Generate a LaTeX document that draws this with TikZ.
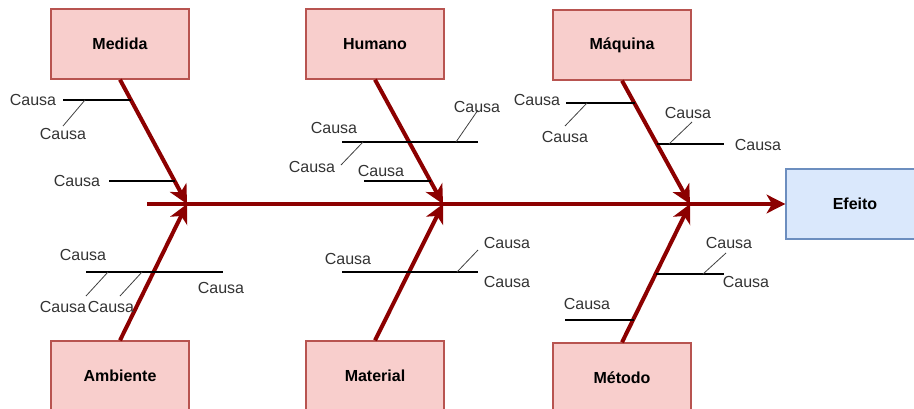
\documentclass[tikz,border=0pt]{standalone}
\usepackage{fontspec}
\setmainfont{Liberation Sans}
\usetikzlibrary{arrows.meta}

\definecolor{espinhacor}{HTML}{8C0000}
\definecolor{rosa}{HTML}{F8CECC}
\definecolor{rosaborda}{HTML}{B85450}
\definecolor{azul}{HTML}{DAE8FC}
\definecolor{azulborda}{HTML}{6C8EBF}
\definecolor{textocor}{HTML}{333333}

\tikzset{
    categoria/.style={
        rectangle,
        draw=rosaborda,
        fill=rosa,
        line width=1pt,
        minimum width=103.5pt,
        minimum height=52.5pt,
        align=center,
        font=\fontsize{12}{14}\selectfont\bfseries
    },
    efeito/.style={
        categoria,
        draw=azulborda,
        fill=azul
    },
    espinha/.style={
        -{Stealth[length=14pt,width=14pt,inset=4pt]},
        line width=3pt,
        draw=espinhacor
    },
    causa/.style={
        line width=1pt,
        draw=black
    },
    subcausa/.style={
        line width=0.6pt,
        draw=black!75
    },
    rotulo/.style={
        font=\fontsize{12}{14}\selectfont,
        text=textocor,
        inner sep=0pt
    }
}

\begin{document}
\begin{tikzpicture}[x=0.75pt, y=-0.75pt]

    \useasboundingbox (0,0) rectangle (914,408);

    % Categories
    \node[categoria] (medida) at (120,44) {Medida};
    \node[categoria] (humano) at (375,44) {Humano};
    \node[categoria] (maquina) at (622,45) {Máquina};
    \node[categoria] (ambiente) at (120,376) {Ambiente};
    \node[categoria] (material) at (375,376) {Material};
    \node[categoria] (metodo) at (622,378) {Método};

    % Effect
    \node[efeito] (efeito) at (855,204) {Efeito};

    % Spine and bones
    \coordinate (inicio) at (147,204);
    \coordinate (j1) at (187,204);
    \coordinate (j2) at (443,204);
    \coordinate (j3) at (690,204);
    \draw[espinha] (inicio) -- (efeito.west);
    \draw[espinha] (medida.south) -- (j1);
    \draw[espinha] (ambiente.north) -- (j1);
    \draw[espinha] (humano.south) -- (j2);
    \draw[espinha] (material.north) -- (j2);
    \draw[espinha] (maquina.south) -- (j3);
    \draw[espinha] (metodo.north) -- (j3);

    % Medida
    \node[rotulo] (med1) at (33,100) {Causa};
    \node[rotulo] (med2) at (63,134) {Causa};
    \node[rotulo] (med3) at (77,181) {Causa};
    \coordinate (med1a) at (63,100);
    \coordinate (med1b) at (131,100);
    \coordinate (med2a) at (85,100);
    \coordinate (med2b) at (63,126);
    \coordinate (med3a) at (109,181);
    \coordinate (med3b) at (175,181);
    \draw[causa] (med1a) -- (med1b);
    \draw[subcausa] (med2a) -- (med2b);
    \draw[causa] (med3a) -- (med3b);

    % Humano
    \node[rotulo] (hum1) at (334,128) {Causa};
    \node[rotulo] (hum2) at (312,167) {Causa};
    \node[rotulo] (hum3) at (477,107) {Causa};
    \node[rotulo] (hum4) at (381,171) {Causa};
    \coordinate (hum1a) at (342,142);
    \coordinate (hum1b) at (478,142);
    \coordinate (hum2a) at (363,142);
    \coordinate (hum2b) at (341,165);
    \coordinate (hum3a) at (456,142);
    \coordinate (hum3b) at (478,110);
    \coordinate (hum4a) at (364,181);
    \coordinate (hum4b) at (431,181);
    \draw[causa] (hum1a) -- (hum1b);
    \draw[subcausa] (hum2a) -- (hum2b);
    \draw[subcausa] (hum3a) -- (hum3b);
    \draw[causa] (hum4a) -- (hum4b);

    % Maquina
    \node[rotulo] (maq1) at (537,100) {Causa};
    \node[rotulo] (maq2) at (565,137) {Causa};
    \node[rotulo] (maq3) at (758,145) {Causa};
    \node[rotulo] (maq4) at (688,113) {Causa};
    \coordinate (maq1a) at (566,103);
    \coordinate (maq1b) at (635,103);
    \coordinate (maq2a) at (587,103);
    \coordinate (maq2b) at (565,126);
    \coordinate (maq3a) at (657,144);
    \coordinate (maq3b) at (724,144);
    \coordinate (maq4a) at (669,144);
    \coordinate (maq4b) at (692,122);
    \draw[causa] (maq1a) -- (maq1b);
    \draw[subcausa] (maq2a) -- (maq2b);
    \draw[causa] (maq3a) -- (maq3b);
    \draw[subcausa] (maq4a) -- (maq4b);

    % Ambiente
    \node[rotulo] (amb1) at (83,255) {Causa};
    \node[rotulo] (amb2) at (221,288) {Causa};
    \node[rotulo] (amb3) at (63,307) {Causa};
    \node[rotulo] (amb4) at (111,307) {Causa};
    \coordinate (amb1a) at (86,272);
    \coordinate (amb1b) at (223,272);
    \coordinate (amb3a) at (108,272);
    \coordinate (amb3b) at (86,296);
    \coordinate (amb4a) at (142,272);
    \coordinate (amb4b) at (120,296);
    \draw[causa] (amb1a) -- (amb1b);
    \draw[subcausa] (amb3a) -- (amb3b);
    \draw[subcausa] (amb4a) -- (amb4b);

    % Material
    \node[rotulo] (mat1) at (348,259) {Causa};
    \node[rotulo] (mat2) at (507,243) {Causa};
    \node[rotulo] (mat3) at (507,282) {Causa};
    \coordinate (mat1a) at (342,272);
    \coordinate (mat1b) at (478,272);
    \coordinate (mat2a) at (457,272);
    \coordinate (mat2b) at (478,250);
    \draw[causa] (mat1a) -- (mat1b);
    \draw[subcausa] (mat2a) -- (mat2b);

    % Metodo
    \node[rotulo] (met1) at (729,243) {Causa};
    \node[rotulo] (met2) at (746,282) {Causa};
    \node[rotulo] (met3) at (587,304) {Causa};
    \coordinate (met1a) at (656,274);
    \coordinate (met1b) at (724,274);
    \coordinate (met2a) at (703,274);
    \coordinate (met2b) at (726,253);
    \coordinate (met3a) at (565,320);
    \coordinate (met3b) at (634,320);
    \draw[causa] (met1a) -- (met1b);
    \draw[subcausa] (met2a) -- (met2b);
    \draw[causa] (met3a) -- (met3b);

\end{tikzpicture}
\end{document}
